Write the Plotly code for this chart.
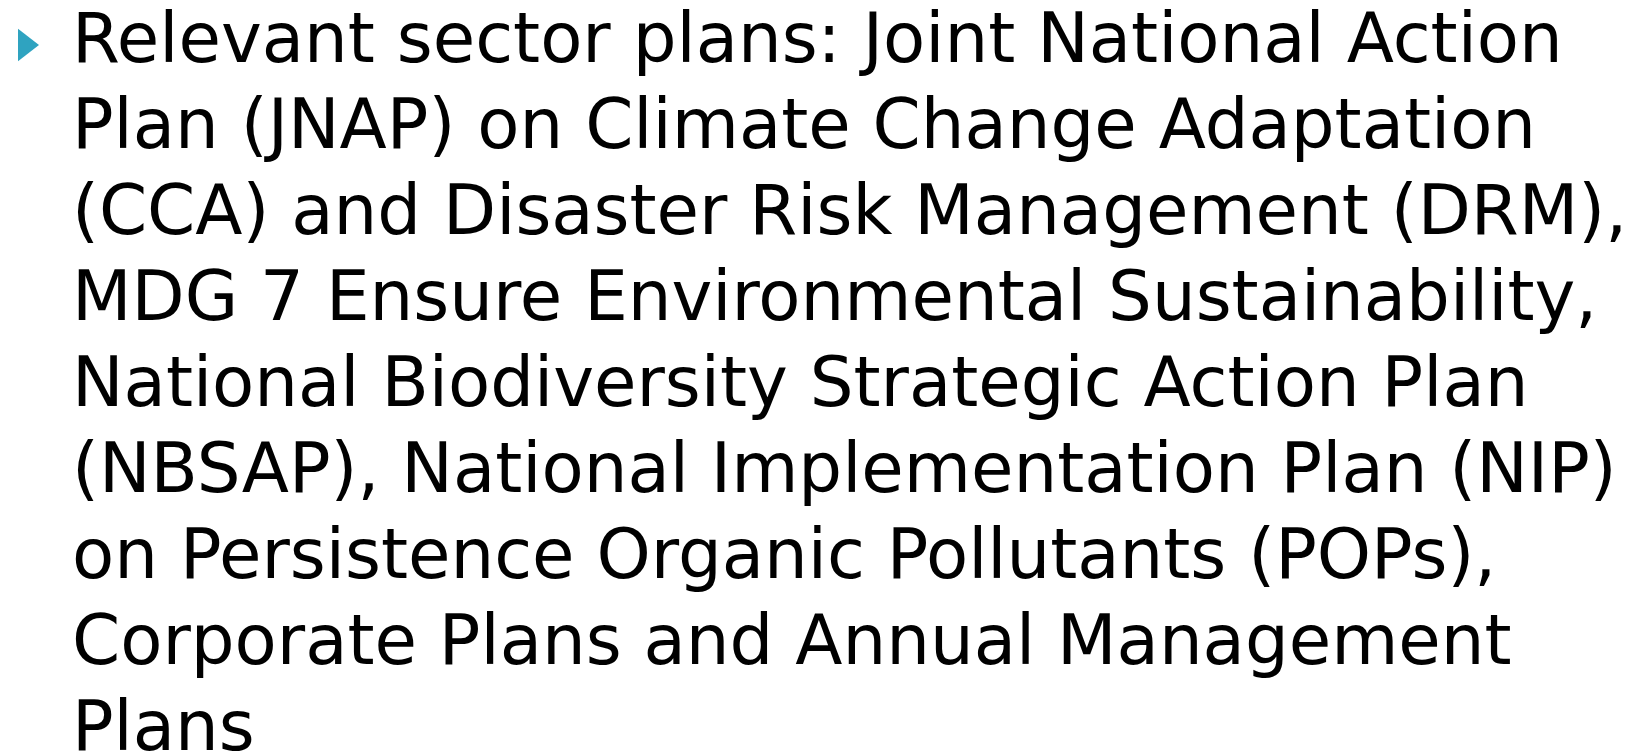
import plotly.graph_objects as go

lines = [
    "Relevant sector plans: Joint National Action",
    "Plan (JNAP) on Climate Change Adaptation",
    "(CCA) and Disaster Risk Management (DRM),",
    "MDG 7 Ensure Environmental Sustainability,",
    "National Biodiversity Strategic Action Plan",
    "(NBSAP), National Implementation Plan (NIP)",
    "on Persistence Organic Pollutants (POPs),",
    "Corporate Plans and Annual Management",
    "Plans",
]

W, H = 1629, 756
pitch = 86.0          # px between lines
first_center = 29.5   # px, vertical centre of first line box
text_x = 62           # px
bullet_x = 17         # px
bullet_center = 37.0  # px
font_family = "DejaVu Sans"
font_size = 69
bullet_color = "#2fa3c0"

y_top = -first_center / pitch
y_bot = (H - first_center) / pitch
bullet_y = (bullet_center - first_center) / pitch

fig = go.Figure()
fig.add_trace(go.Scatter(
    x=[bullet_x], y=[bullet_y], mode="markers",
    marker=dict(symbol="triangle-right", size=28, color=bullet_color, line=dict(width=0)),
    hoverinfo="skip", showlegend=False,
))
for i, t in enumerate(lines):
    fig.add_annotation(x=text_x, y=i, xref="x", yref="y", text=t, showarrow=False,
                       xanchor="left", yanchor="middle",
                       font=dict(family=font_family, size=font_size, color="#000000"))

fig.update_layout(
    width=W, height=H, margin=dict(l=0, r=0, t=0, b=0),
    paper_bgcolor="white", plot_bgcolor="white",
    xaxis=dict(range=[0, W], visible=False, fixedrange=True),
    yaxis=dict(range=[y_bot, y_top], visible=False, fixedrange=True),
    showlegend=False,
)
fig.write_html("out.html")
